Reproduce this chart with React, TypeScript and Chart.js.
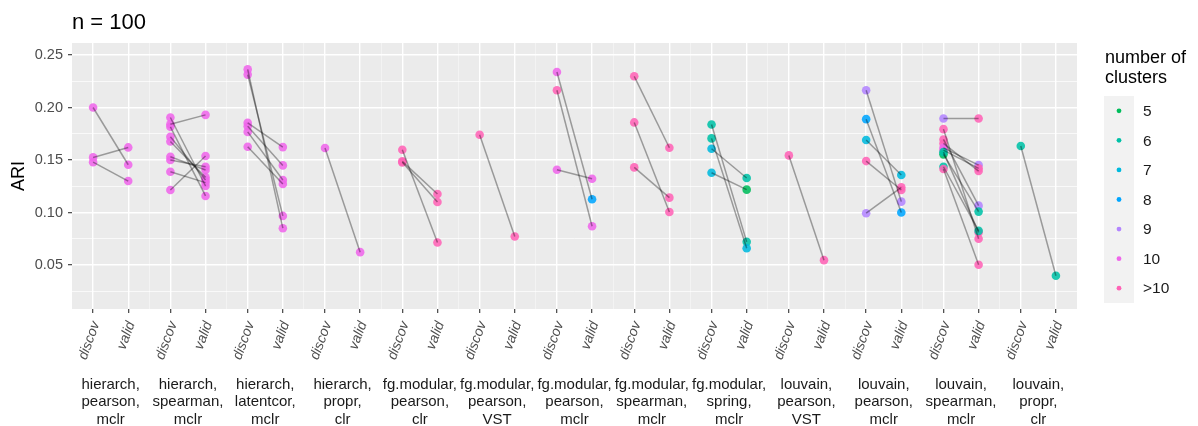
import { useEffect, useRef } from 'react';
import { Chart, registerables } from 'chart.js';

Chart.register(...registerables);

// Pipeline facets (one panel per pipeline), each label split over three lines
const pipelines: string[][] = [
  ['hierarch,', 'pearson,', 'mclr'],
  ['hierarch,', 'spearman,', 'mclr'],
  ['hierarch,', 'latentcor,', 'mclr'],
  ['hierarch,', 'propr,', 'clr'],
  ['fg.modular,', 'pearson,', 'clr'],
  ['fg.modular,', 'pearson,', 'VST'],
  ['fg.modular,', 'pearson,', 'mclr'],
  ['fg.modular,', 'spearman,', 'mclr'],
  ['fg.modular,', 'spring,', 'mclr'],
  ['louvain,', 'pearson,', 'VST'],
  ['louvain,', 'pearson,', 'mclr'],
  ['louvain,', 'spearman,', 'mclr'],
  ['louvain,', 'propr,', 'clr'],
];

const stageLabels = ['discov', 'valid'];

const clusterLevels = ['5', '6', '7', '8', '9', '10', '>10'];
const clusterColors = ['#00BD5C', '#00C1A7', '#00BADE', '#00A6FF', '#B385FF', '#EF67EB', '#FF63B6'];

// ARI of each run on the discovery data, per pipeline
const discovARI: number[][] = [
  [0.200, 0.1525, 0.148],
  [0.1905, 0.1841, 0.1816, 0.1721, 0.1677, 0.1531, 0.150, 0.1389, 0.1215],
  [0.2363, 0.2313, 0.1854, 0.1822, 0.1768, 0.1626],
  [0.1614],
  [0.1598, 0.1487, 0.1478],
  [0.174],
  [0.2338, 0.2164, 0.1408],
  [0.2297, 0.1858, 0.143],
  [0.1838, 0.1706, 0.1607, 0.1379],
  [0.1544],
  [0.2164, 0.1889, 0.169, 0.149, 0.0994],
  [0.1896, 0.1794, 0.1696, 0.1658, 0.1616, 0.1595, 0.1554, 0.1575, 0.1436, 0.1414],
  [0.1633],
];

// ARI of the matching run on the validation data
const validARI: number[][] = [
  [0.1455, 0.162, 0.130],
  [0.1253, 0.193, 0.1158, 0.131, 0.1335, 0.1405, 0.1436, 0.1285, 0.1538],
  [0.0851, 0.0968, 0.1623, 0.1449, 0.131, 0.1272],
  [0.0623],
  [0.0715, 0.1177, 0.110],
  [0.0772],
  [0.1127, 0.087, 0.1322],
  [0.1617, 0.1006, 0.1142],
  [0.0721, 0.0661, 0.1329, 0.1218],
  [0.0547],
  [0.1104, 0.100, 0.1357, 0.1215, 0.124],
  [0.1896, 0.0751, 0.1066, 0.1395, 0.1452, 0.1421, 0.1009, 0.0811, 0.0826, 0.0503],
  [0.0398],
];

// Number of clusters found in each run
const discovClusters: string[][] = [
  ['10', '10', '10'],
  ['10', '10', '10', '10', '10', '10', '10', '10', '10'],
  ['10', '10', '10', '10', '10', '10'],
  ['10'],
  ['>10', '>10', '>10'],
  ['>10'],
  ['10', '>10', '10'],
  ['>10', '>10', '>10'],
  ['6', '6', '7', '7'],
  ['>10'],
  ['9', '8', '7', '>10', '9'],
  ['9', '>10', '>10', '>10', '10', '10', '5', '6', '6', '>10'],
  ['6'],
];

const validClusters: string[][] = [
  ['10', '10', '10'],
  ['10', '10', '10', '10', '10', '10', '10', '10', '10'],
  ['10', '10', '10', '10', '10', '10'],
  ['10'],
  ['>10', '>10', '>10'],
  ['>10'],
  ['8', '10', '10'],
  ['>10', '>10', '>10'],
  ['6', '7', '6', '5'],
  ['>10'],
  ['9', '8', '7', '>10', '>10'],
  ['>10', '>10', '9', '>10', '9', '>10', '6', '>10', '6', '>10'],
  ['6'],
];

const yMajorTicks = [0.05, 0.1, 0.15, 0.2, 0.25];
const yMinorTicks = [0.025, 0.075, 0.125, 0.175, 0.225];
const yLimits = [0.0082, 0.2614];

const chartTitle = 'n = 100';
const yTitle = 'ARI';
const legendTitle = ['number of', 'clusters'];

// Each facet spans PANEL x-units; the two stages sit at fixed offsets inside it
const PANEL = 2.2;
const STAGE_OFFSET = [0.6, 1.6];

const FONT = '"Liberation Sans", Arial, Helvetica, sans-serif';

const colorOf = (level: string, alpha = 'E0') =>
  clusterColors[clusterLevels.indexOf(level)] + alpha;

export default function App() {
  const canvasRef = useRef<HTMLCanvasElement | null>(null);

  useEffect(() => {
    const canvas = canvasRef.current;
    if (!canvas) return;

    const nPanels = pipelines.length;
    const stageTicks: number[] = [];
    pipelines.forEach((_, k) => STAGE_OFFSET.forEach((o) => stageTicks.push(k * PANEL + o)));
    const boundaryTicks: number[] = [];
    for (let k = 1; k < nPanels; k++) boundaryTicks.push(k * PANEL);
    const isBoundary = (v: number) => boundaryTicks.some((b) => Math.abs(b - v) < 1e-6);
    const isMajorY = (v: number) => yMajorTicks.some((b) => Math.abs(b - v) < 1e-6);

    const points: { x: number; y: number }[] = [];
    const pointColors: string[] = [];
    const pairDatasets: any[] = [];
    discovARI.forEach((vals, k) => {
      vals.forEach((d, i) => {
        const v = validARI[k][i];
        const x0 = k * PANEL + STAGE_OFFSET[0];
        const x1 = k * PANEL + STAGE_OFFSET[1];
        points.push({ x: x0, y: d });
        pointColors.push(colorOf(discovClusters[k][i]));
        points.push({ x: x1, y: v });
        pointColors.push(colorOf(validClusters[k][i]));
        pairDatasets.push({
          type: 'line',
          data: [
            { x: x0, y: d },
            { x: x1, y: v },
          ],
          borderColor: 'rgba(0,0,0,0.35)',
          borderWidth: 1.5,
          pointRadius: 0,
          showLine: true,
          fill: false,
          order: 0,
        });
      });
    });

    const decorations = {
      id: 'decorations',
      afterDraw(chart: any) {
        const { ctx, chartArea } = chart;
        const xs = chart.scales.x;
        ctx.save();

        // rotated stage labels under every tick
        ctx.font = `italic 14px ${FONT}`;
        ctx.fillStyle = '#4D4D4D';
        ctx.textAlign = 'right';
        ctx.textBaseline = 'middle';
        pipelines.forEach((_, k) => {
          STAGE_OFFSET.forEach((o, s) => {
            const px = xs.getPixelForValue(k * PANEL + o);
            ctx.save();
            ctx.translate(px + 3, chartArea.bottom + 13);
            ctx.rotate((-70 * Math.PI) / 180);
            ctx.fillText(stageLabels[s], 0, 0);
            ctx.restore();
          });
        });

        // facet strip labels below the axis
        ctx.font = `15px ${FONT}`;
        ctx.fillStyle = '#1A1A1A';
        ctx.textAlign = 'center';
        ctx.textBaseline = 'middle';
        pipelines.forEach((lines, k) => {
          const cx = xs.getPixelForValue(k * PANEL + PANEL / 2);
          lines.forEach((t, j) => ctx.fillText(t, cx, 384.5 + j * 17.5));
        });

        // plot title
        ctx.font = `22px ${FONT}`;
        ctx.fillStyle = '#000000';
        ctx.textAlign = 'left';
        ctx.textBaseline = 'alphabetic';
        ctx.fillText(chartTitle, chartArea.left, 29);

        // y axis title
        ctx.save();
        ctx.font = `18px ${FONT}`;
        ctx.translate(19, (chartArea.top + chartArea.bottom) / 2);
        ctx.rotate(-Math.PI / 2);
        ctx.textAlign = 'center';
        ctx.textBaseline = 'middle';
        ctx.fillText(yTitle, 0, 0);
        ctx.restore();

        // legend
        const lx = 1104;
        ctx.font = `18px ${FONT}`;
        ctx.fillStyle = '#000000';
        ctx.textAlign = 'left';
        ctx.textBaseline = 'middle';
        legendTitle.forEach((t, j) => ctx.fillText(t, lx + 1, 58 + j * 20.5));
        const keyH = 29.57;
        const keyTop = 96;
        ctx.fillStyle = '#F2F2F2';
        ctx.fillRect(lx, keyTop, 30, keyH * clusterLevels.length);
        ctx.font = `15.5px ${FONT}`;
        clusterLevels.forEach((lvl, j) => {
          const cy = keyTop + keyH * (j + 0.5);
          ctx.fillStyle = clusterColors[j];
          ctx.beginPath();
          ctx.arc(lx + 15, cy, 2.4, 0, Math.PI * 2);
          ctx.fill();
          ctx.fillStyle = '#1A1A1A';
          ctx.fillText(lvl, lx + 39, cy + 1);
        });

        ctx.restore();
      },
    };

    const panelBackground = {
      id: 'panelBackground',
      beforeDraw(chart: any) {
        const { ctx, chartArea } = chart;
        ctx.save();
        ctx.fillStyle = '#FFFFFF';
        ctx.fillRect(0, 0, chart.width, chart.height);
        ctx.fillStyle = '#EBEBEB';
        ctx.fillRect(chartArea.left, chartArea.top, chartArea.right - chartArea.left, chartArea.bottom - chartArea.top);
        ctx.restore();
      },
    };

    const chart = new Chart(canvas, {
      type: 'scatter',
      data: {
        datasets: [
          ...pairDatasets,
          {
            type: 'scatter',
            data: points,
            backgroundColor: pointColors,
            borderWidth: 0,
            pointRadius: 4.3,
            order: 1,
          },
        ],
      },
      options: {
        responsive: false,
        animation: false,
        events: [],
        layout: { padding: { left: 0, right: 121, top: 43, bottom: 0 } },
        plugins: {
          legend: { display: false },
          tooltip: { enabled: false },
        },
        scales: {
          x: {
            type: 'linear',
            min: 0,
            max: PANEL * nPanels,
            afterBuildTicks: (s: any) => {
              s.ticks = [...stageTicks, ...boundaryTicks].map((v) => ({ value: v }));
            },
            afterFit: (s: any) => {
              s.height = 426 - 309;
            },
            ticks: { display: false },
            border: { display: false },
            grid: {
              color: (c: any) => (isBoundary(c.tick.value) ? '#F3F3F3' : '#FFFFFF'),
              lineWidth: (c: any) => (isBoundary(c.tick.value) ? 1 : 1.4),
              tickColor: (c: any) => (isBoundary(c.tick.value) ? 'rgba(0,0,0,0)' : '#333333'),
              tickLength: 4,
              tickWidth: 1.1,
              drawTicks: true,
            },
          },
          y: {
            type: 'linear',
            min: yLimits[0],
            max: yLimits[1],
            afterBuildTicks: (s: any) => {
              s.ticks = [...yMinorTicks, ...yMajorTicks].sort((a, b) => a - b).map((v) => ({ value: v }));
            },
            afterFit: (s: any) => {
              s.width = 72;
            },
            border: { display: false },
            ticks: {
              padding: 5,
              color: '#4D4D4D',
              font: { family: FONT, size: 14.5 },
              callback: (v: any) => (isMajorY(Number(v)) ? Number(v).toFixed(2) : ''),
            },
            grid: {
              color: '#FFFFFF',
              lineWidth: (c: any) => (isMajorY(c.tick.value) ? 1.4 : 0.7),
              tickColor: (c: any) => (isMajorY(c.tick.value) ? '#333333' : 'rgba(0,0,0,0)'),
              tickLength: 4,
              tickWidth: 1.1,
              drawTicks: true,
            },
          },
        },
      },
      plugins: [panelBackground, decorations],
    } as any);

    return () => chart.destroy();
  }, []);

  return (
    <div style={{ position: 'absolute', left: 0, top: 0, width: 1198, height: 426, background: '#FFFFFF' }}>
      <canvas ref={canvasRef} width={1198} height={426} style={{ display: 'block' }} />
    </div>
  );
}
